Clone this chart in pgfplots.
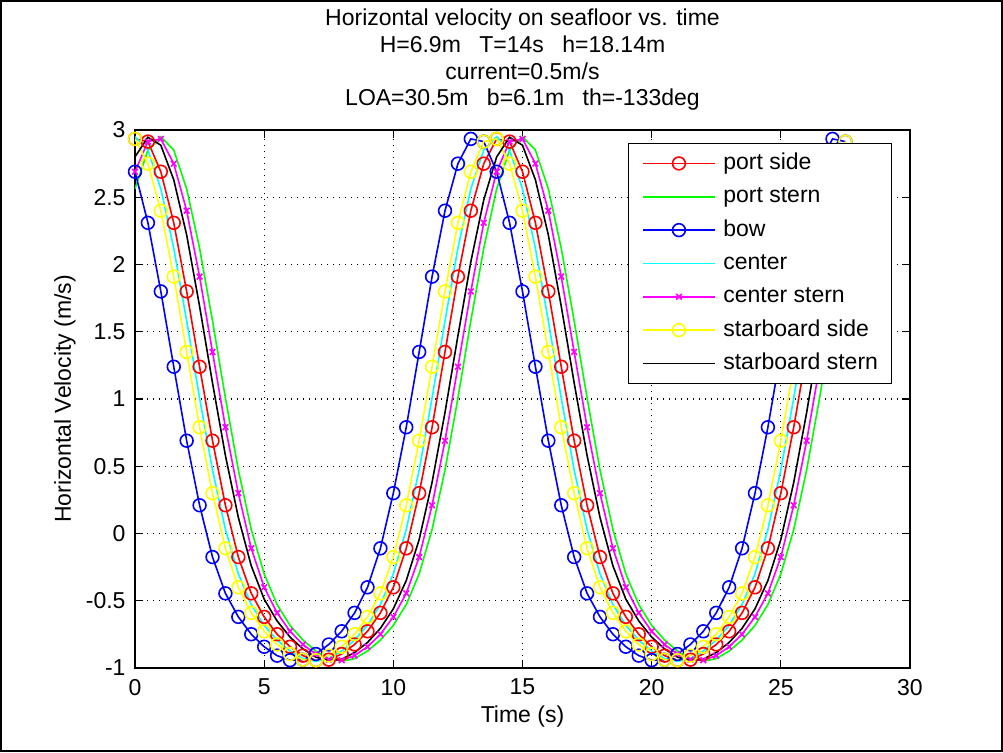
\documentclass[border=0pt]{standalone}
\usepackage{fontspec}
\setmainfont{Liberation Sans}
\usepackage{pgfplots}
\usepackage{pgfplotstable}
\pgfplotsset{compat=1.18}

% MATLAB default line colours
\definecolor{mred}{rgb}{1,0,0}
\definecolor{mgreen}{rgb}{0,1,0}
\definecolor{mblue}{rgb}{0,0,1}
\definecolor{mcyan}{rgb}{0,1,1}
\definecolor{mmagenta}{rgb}{1,0,1}
\definecolor{myellow}{rgb}{1,1,0}

% horizontal velocity (m/s) at the seven points, sampled every 0.5 s
\pgfplotstableread{
t    ps     pst    bow    ctr    cst    sbs    sbt
0.0  2.934  2.563  2.69   2.950  2.69   2.934  2.80
0.5  2.914  2.851  2.31   2.851  2.914  2.75   2.946
1.0  2.69   2.950  1.80   2.563  2.934  2.40   2.887
1.5  2.31   2.851  1.24   2.121  2.75   1.91   2.63
2.0  1.80   2.563  0.69   1.581  2.40   1.35   2.22
2.5  1.24   2.121  0.21   1.007  1.91   0.79   1.69
3.0  0.69   1.581  -0.175 0.473  1.35   0.30   1.12
3.5  0.21   1.007  -0.445 0.030  0.79   -0.11  0.58
4.0  -0.175 0.473  -0.62  -0.300 0.30   -0.40  0.12
4.5  -0.445 0.030  -0.749 -0.528 -0.11  -0.59  -0.24
5.0  -0.62  -0.300 -0.842 -0.683 -0.40  -0.727 -0.488
5.5  -0.749 -0.528 -0.908 -0.792 -0.59  -0.825 -0.65
6.0  -0.842 -0.683 -0.942 -0.874 -0.727 -0.896 -0.77
6.5  -0.908 -0.792 -0.938 -0.930 -0.825 -0.938 -0.858
7.0  -0.942 -0.874 -0.896 -0.950 -0.896 -0.942 -0.919
7.5  -0.938 -0.930 -0.825 -0.930 -0.938 -0.908 -0.946
8.0  -0.896 -0.950 -0.727 -0.874 -0.942 -0.842 -0.934
8.5  -0.825 -0.930 -0.59  -0.792 -0.908 -0.749 -0.885
9.0  -0.727 -0.874 -0.40  -0.683 -0.842 -0.62  -0.81
9.5  -0.59  -0.792 -0.11  -0.528 -0.749 -0.445 -0.705
10.0 -0.40  -0.683 0.30   -0.300 -0.62  -0.175 -0.56
10.5 -0.11  -0.528 0.79   0.030  -0.445 0.21   -0.35
11.0 0.30   -0.300 1.35   0.473  -0.175 0.69   -0.045
11.5 0.79   0.030  1.91   1.007  0.21   1.24   0.38
12.0 1.35   0.473  2.40   1.581  0.69   1.80   0.90
12.5 1.91   1.007  2.75   2.121  1.24   2.31   1.47
13.0 2.40   1.581  2.934  2.563  1.80   2.69   2.02
13.5 2.75   2.121  2.914  2.851  2.31   2.914  2.48
14.0 2.934  2.563  2.69   2.950  2.69   2.934  2.80
14.5 2.914  2.851  2.31   2.851  2.914  2.75   2.946
15.0 2.69   2.950  1.80   2.563  2.934  2.40   2.887
15.5 2.31   2.851  1.24   2.121  2.75   1.91   2.63
16.0 1.80   2.563  0.69   1.581  2.40   1.35   2.22
16.5 1.24   2.121  0.21   1.007  1.91   0.79   1.69
17.0 0.69   1.581  -0.175 0.473  1.35   0.30   1.12
17.5 0.21   1.007  -0.445 0.030  0.79   -0.11  0.58
18.0 -0.175 0.473  -0.62  -0.300 0.30   -0.40  0.12
18.5 -0.445 0.030  -0.749 -0.528 -0.11  -0.59  -0.24
19.0 -0.62  -0.300 -0.842 -0.683 -0.40  -0.727 -0.488
19.5 -0.749 -0.528 -0.908 -0.792 -0.59  -0.825 -0.65
20.0 -0.842 -0.683 -0.942 -0.874 -0.727 -0.896 -0.77
20.5 -0.908 -0.792 -0.938 -0.930 -0.825 -0.938 -0.858
21.0 -0.942 -0.874 -0.896 -0.950 -0.896 -0.942 -0.919
21.5 -0.938 -0.930 -0.825 -0.930 -0.938 -0.908 -0.946
22.0 -0.896 -0.950 -0.727 -0.874 -0.942 -0.842 -0.934
22.5 -0.825 -0.930 -0.59  -0.792 -0.908 -0.749 -0.885
23.0 -0.727 -0.874 -0.40  -0.683 -0.842 -0.62  -0.81
23.5 -0.59  -0.792 -0.11  -0.528 -0.749 -0.445 -0.705
24.0 -0.40  -0.683 0.30   -0.300 -0.62  -0.175 -0.56
24.5 -0.11  -0.528 0.79   0.030  -0.445 0.21   -0.35
25.0 0.30   -0.300 1.35   0.473  -0.175 0.69   -0.045
25.5 0.79   0.030  1.91   1.007  0.21   1.24   0.38
26.0 1.35   0.473  2.40   1.581  0.69   1.80   0.90
26.5 1.91   1.007  2.75   2.121  1.24   2.31   1.47
27.0 2.40   1.581  2.934  2.563  1.80   2.69   2.02
27.5 2.75   2.121  2.914  2.851  2.31   2.914  2.48
}\velo

\begin{document}
\begin{tikzpicture}
\useasboundingbox (0,0) rectangle (501.5pt,376pt);
\draw[line width=1pt] (0.5pt,0.5pt) rectangle (501pt,375.5pt);
\begin{axis}[
  at={(67.5pt,42pt)}, anchor=south west,
  scale only axis, width=387.5pt, height=269pt,
  xmin=0, xmax=30, ymin=-1, ymax=3,
  xtick={0,5,10,15,20,25,30},
  ytick={-1,-0.5,0,0.5,1,1.5,2,2.5,3},
  tick pos=both, xticklabel pos=bottom, yticklabel pos=left,
  tick align=inside, major tick length=4pt,
  tick style={black, line width=0.6pt},
  axis line style={line width=0.8pt},
  grid=major,
  major grid style={black, line width=0.6pt, dash pattern=on 0.6pt off 2.4pt},
  /pgf/number format/assume math mode=true,
  tick label style={font=\fontsize{11.5}{13}\selectfont},
  xticklabel style={yshift=-2pt},
  yticklabel style={xshift=-1.2pt},
  xlabel={Time (s)},
  ylabel={Horizontal Velocity (m/s)},
  label style={font=\fontsize{11.5}{13}\selectfont},
  xlabel style={at={(axis description cs:0.5,0)}, anchor=center, yshift=-24.5pt},
  ylabel style={at={(axis description cs:-0.0903,0.5)}, anchor=center, rotate=0},
  title={Horizontal velocity on seafloor vs. time\\
         H=6.9m\hspace{0.8em}T=14s\hspace{0.8em}h=18.14m\\
         current=0.5m/s\\
         LOA=30.5m\hspace{0.8em}b=6.1m\hspace{0.8em}th=-133deg},
  title style={at={(axis description cs:0.5,1)}, anchor=south, yshift=3.5pt,
               inner sep=0pt, align=center, font=\fontsize{11.5}{13.35}\selectfont},
  legend style={at={(0.9768,0.9758)}, anchor=north east, draw=black,
                fill=white, inner xsep=6.8pt, inner ysep=4.5pt,
                row sep=5.67pt, /tikz/column sep=3.8pt,
                font=\fontsize{11.5}{13}\selectfont,
                nodes={inner sep=0pt, text height=8.5pt, text depth=2.5pt}},
  legend cell align=left,
  legend image code/.code={\draw[mark repeat=2,mark phase=2,#1,line width=0.8pt]
     plot coordinates {(0pt,0pt) (18pt,0pt) (36pt,0pt)};},
  every axis plot/.append style={line width=0.8pt},
]
\addplot[mred, mark=o, mark size=3.2pt] table[x=t, y=ps] {\velo};
\addplot[mgreen, no marks] table[x=t, y=pst] {\velo};
\addplot[mblue, mark=o, mark size=3.2pt] table[x=t, y=bow] {\velo};
\addplot[mcyan, no marks] table[x=t, y=ctr] {\velo};
\addplot[mmagenta, mark=x, mark size=2pt] table[x=t, y=cst] {\velo};
\addplot[myellow, mark=o, mark size=3.2pt] table[x=t, y=sbs] {\velo};
\addplot[black, no marks] table[x=t, y=sbt] {\velo};
\legend{port side, port stern, bow, center, center stern, starboard side, starboard stern}
\end{axis}
\end{tikzpicture}
\end{document}
